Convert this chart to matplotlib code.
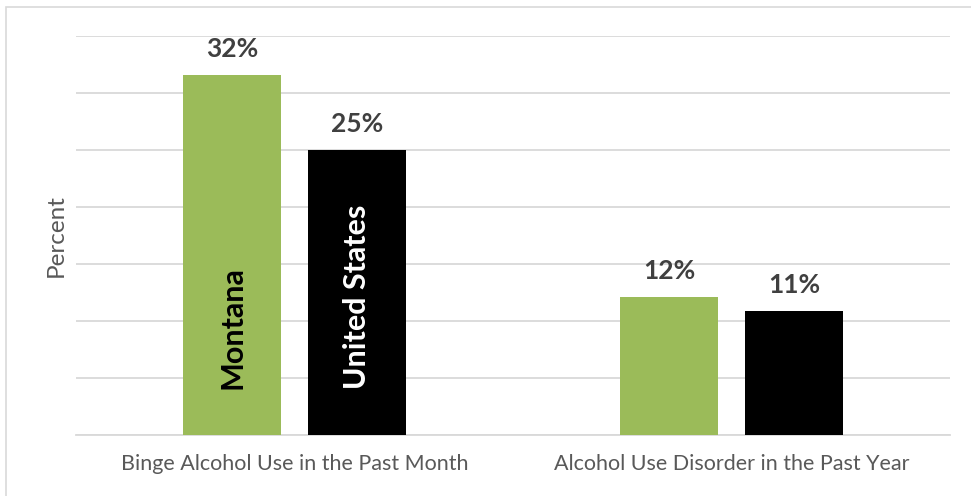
import matplotlib.pyplot as plt
from matplotlib.patches import Rectangle
import numpy as np

plt.rcParams['font.family'] = ['Lato', 'DejaVu Sans']

categories = ['Binge Alcohol Use in the Past Month', 'Alcohol Use Disorder in the Past Year']
series = ['Montana', 'United States']
montana = [31.6, 12.1]
united_states = [25.0, 10.9]
value_labels = [['32%', '12%'], ['25%', '11%']]

green = '#9BBB59'
black = '#000000'
grid_color = '#D9D9D9'
text_gray = '#595959'

fig = plt.figure(figsize=(9.71, 4.96), dpi=100)
ax = fig.add_axes([76/971, 1 - 435/496, (950 - 76)/971, (435 - 36)/496])

x = np.arange(len(categories))
width = 0.224
offset = 0.143

b1 = ax.bar(x - offset, montana, width, color=green, zorder=3)
b2 = ax.bar(x + offset, united_states, width, color=black, zorder=3)

for bars, labels in [(b1, value_labels[0]), (b2, value_labels[1])]:
    for rect, lab in zip(bars, labels):
        ax.annotate(lab, (rect.get_x() + rect.get_width()/2, rect.get_height()),
                    xytext=(0, 13), textcoords='offset points',
                    ha='center', va='baseline', fontsize=19, fontweight='bold',
                    color='#404040')

# series names written inside the first pair of bars
ax.text(x[0] - offset, 4.0, series[0], rotation=90, ha='center', va='bottom',
        fontsize=22, fontweight='bold', color='black', zorder=4)
ax.text(x[0] + offset, 4.0, series[1], rotation=90, ha='center', va='bottom',
        fontsize=22, fontweight='bold', color='white', zorder=4)

ax.set_xlim(-0.5, 1.5)
ax.set_ylim(0, 35)
ax.set_yticks(np.arange(0, 36, 5))
ax.set_yticklabels([])
ax.tick_params(axis='y', length=0)
ax.grid(axis='y', color=grid_color, linewidth=1.3, zorder=0)
ax.set_xticks(x)
ax.set_xticklabels(categories, fontsize=15.5, color=text_gray)
ax.tick_params(axis='x', length=0, pad=14)
for s in ['top', 'right', 'left']:
    ax.spines[s].set_visible(False)
ax.spines['bottom'].set_color(grid_color)
ax.spines['bottom'].set_linewidth(1.3)

ax.set_ylabel('Percent', fontsize=17.5, color=text_gray, labelpad=3)

# thin frame around the chart area
fig.patches.append(Rectangle((6/971, -0.1), 1.2, 1.1 - 7/496, transform=fig.transFigure,
                             fill=False, edgecolor='#D9D9D9', linewidth=1.2))

fig.savefig('out.png', dpi=100)
